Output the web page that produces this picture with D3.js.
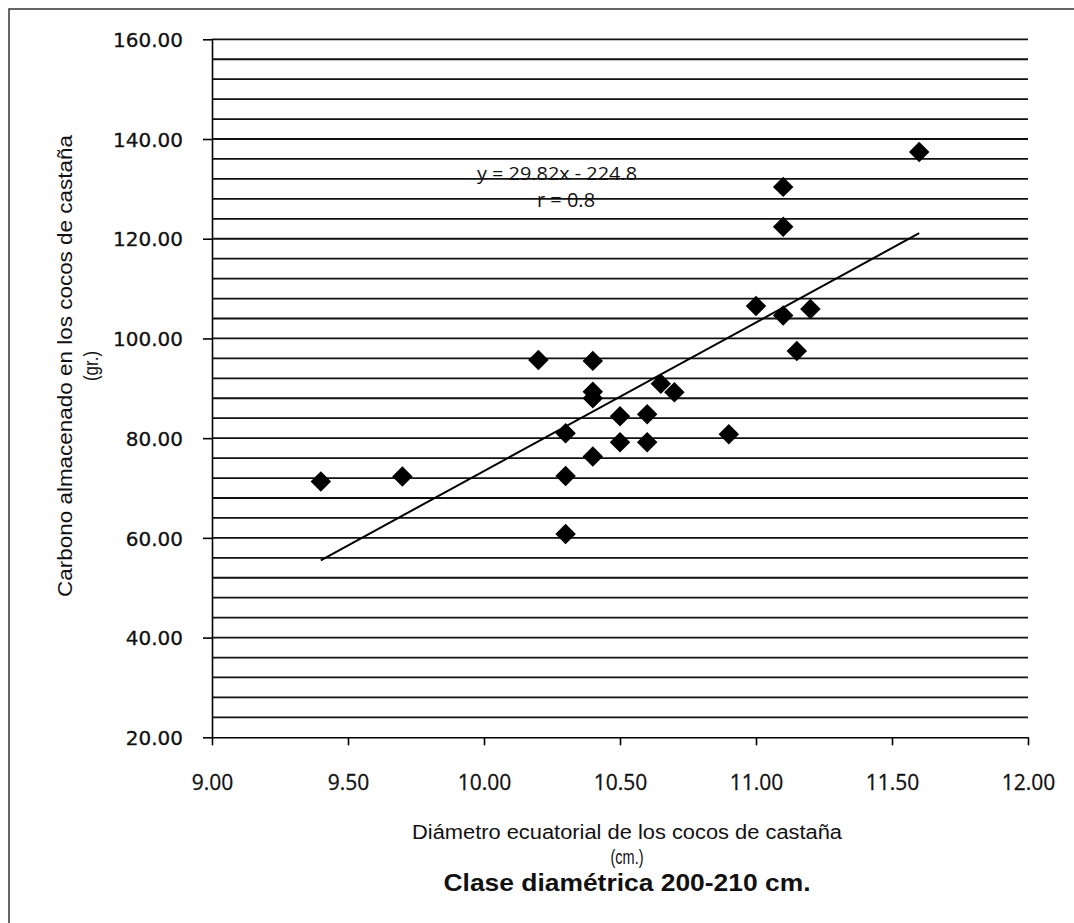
<!DOCTYPE html>
<html>
<head>
<meta charset="utf-8">
<script src="https://cdn.jsdelivr.net/npm/d3@7"></script>
<style>
  body { margin: 0; background: #fff; }
  svg { display: block; }
</style>
</head>
<body>
<div id="grafico"></div>
<script>
// datos
var diametro = [9.40, 9.70, 10.20, 10.30, 10.30, 10.30, 10.40, 10.40, 10.40, 10.40,
                10.50, 10.50, 10.60, 10.60, 10.65, 10.70, 10.90, 11.00, 11.10, 11.10,
                11.10, 11.15, 11.20, 11.60];
var carbono = [71.3, 72.3, 95.7, 81.0, 72.4, 60.8, 95.5, 89.3, 88.0, 76.3,
               84.4, 79.2, 84.8, 79.2, 90.9, 89.2, 80.8, 106.5, 130.4, 122.4,
               104.6, 97.5, 105.9, 137.4];
var pendiente = 29.82, intercepto = -224.8;
var ticksX = [9.0, 9.5, 10.0, 10.5, 11.0, 11.5, 12.0];
var ticksY = [20, 40, 60, 80, 100, 120, 140, 160];
var lineasY = d3.range(24, 161, 4);

var ancho = 1074, alto = 923;
var mIzq = 212, mDer = 1028, mSup = 39.3, mInf = 737.3;

var svg = d3.select('#grafico').append('svg')
    .attr('width', ancho)
    .attr('height', alto);

// marco
svg.append('path')
    .attr('d', 'M9,' + alto + 'V9H' + ancho)
    .attr('fill', 'none')
    .attr('stroke', '#333')
    .attr('stroke-width', 1.5);

var x = d3.scaleLinear().domain([9, 12]).range([mIzq, mDer]);
var y = d3.scaleLinear().domain([20, 160]).range([mInf, mSup]);

// lineas de division
svg.selectAll('.grid')
    .data(lineasY)
    .enter().append('line')
    .attr('class', 'grid')
    .attr('x1', mIzq)
    .attr('x2', mDer)
    .attr('y1', function(d) { return y(d); })
    .attr('y2', function(d) { return y(d); })
    .attr('stroke', '#111')
    .attr('stroke-width', 1.8);

// eje y
var ejeY = svg.append('g')
    .attr('transform', 'translate(' + mIzq + ',0)')
    .call(d3.axisLeft(y).tickValues(ticksY).tickSize(9).tickSizeOuter(0)
        .tickFormat(d3.format('.2f')));
ejeY.select('.domain').attr('stroke', '#000').attr('stroke-width', 1.6);
ejeY.selectAll('.tick line').attr('stroke', '#000').attr('stroke-width', 1.6);
ejeY.selectAll('.tick text')
    .attr('x', -29)
    .attr('dy', '0.36em')
    .style('font-family', 'DejaVu Sans')
    .style('font-size', '20px')
    .attr('fill', '#111')
    .attr('stroke', '#111')
    .attr('stroke-width', 0.3);

// eje x
var ejeX = svg.append('g')
    .attr('transform', 'translate(0,' + mInf + ')')
    .call(d3.axisBottom(x).tickValues(ticksX).tickSize(8).tickSizeOuter(0)
        .tickFormat(d3.format('.2f')));
ejeX.select('.domain').attr('stroke', '#000').attr('stroke-width', 1.6);
ejeX.selectAll('.tick line').attr('stroke', '#000').attr('stroke-width', 1.6);
ejeX.selectAll('.tick text')
    .attr('y', 45)
    .attr('dy', '0.36em')
    .style('font-family', 'Open Sans')
    .style('font-size', '21px')
    .attr('fill', '#111')
    .attr('stroke', '#111')
    .attr('stroke-width', 0.3);

// linea de tendencia
var xMin = d3.min(diametro), xMax = d3.max(diametro);
svg.append('line')
    .attr('x1', x(xMin))
    .attr('y1', y(pendiente * xMin + intercepto))
    .attr('x2', x(xMax))
    .attr('y2', y(pendiente * xMax + intercepto))
    .attr('stroke', '#000')
    .attr('stroke-width', 2);

// puntos
var puntos = diametro.map(function(d, i) { return { x: d, y: carbono[i] }; });
svg.selectAll('.punto')
    .data(puntos)
    .enter().append('path')
    .attr('class', 'punto')
    .attr('d', d3.symbol().type(d3.symbolSquare).size(210))
    .attr('transform', function(d) {
        return 'translate(' + x(d.x) + ',' + y(d.y) + ') rotate(45)';
    })
    .attr('fill', '#000');

// ecuacion
svg.append('text')
    .attr('x', 557)
    .attr('y', 180)
    .attr('text-anchor', 'middle')
    .attr('textLength', 160)
    .attr('lengthAdjust', 'spacingAndGlyphs')
    .style('font-family', 'Open Sans')
    .style('font-size', '19px')
    .attr('fill', '#111')
    .text('y = 29.82x - 224.8');
svg.append('text')
    .attr('x', 566)
    .attr('y', 207)
    .attr('text-anchor', 'middle')
    .style('font-family', 'Open Sans')
    .style('font-size', '20px')
    .attr('fill', '#111')
    .text('r = 0.8');

// titulo eje y
var tituloY = svg.append('g')
    .attr('transform', 'translate(0,366) rotate(-90)');
tituloY.append('text')
    .attr('x', 0)
    .attr('y', 72)
    .attr('text-anchor', 'middle')
    .attr('textLength', 462)
    .attr('lengthAdjust', 'spacingAndGlyphs')
    .style('font-family', 'Liberation Sans')
    .style('font-size', '20px')
    .attr('fill', '#111')
    .text('Carbono almacenado en los cocos de castaña');
tituloY.append('text')
    .attr('x', 0)
    .attr('y', 98)
    .attr('text-anchor', 'middle')
    .attr('textLength', 30)
    .attr('lengthAdjust', 'spacingAndGlyphs')
    .style('font-family', 'Liberation Sans')
    .style('font-size', '20px')
    .attr('fill', '#111')
    .text('(gr.)');

// titulo eje x
svg.append('text')
    .attr('x', 627)
    .attr('y', 839)
    .attr('text-anchor', 'middle')
    .attr('textLength', 430)
    .attr('lengthAdjust', 'spacingAndGlyphs')
    .style('font-family', 'Liberation Sans')
    .style('font-size', '20px')
    .attr('fill', '#111')
    .text('Diámetro ecuatorial de los cocos de castaña');
svg.append('text')
    .attr('x', 627)
    .attr('y', 864)
    .attr('text-anchor', 'middle')
    .attr('textLength', 33)
    .attr('lengthAdjust', 'spacingAndGlyphs')
    .style('font-family', 'Liberation Sans')
    .style('font-size', '20px')
    .attr('fill', '#111')
    .text('(cm.)');

svg.append('text')
    .attr('x', 627)
    .attr('y', 891)
    .attr('text-anchor', 'middle')
    .attr('textLength', 367)
    .attr('lengthAdjust', 'spacingAndGlyphs')
    .style('font-family', 'Liberation Sans')
    .style('font-size', '24px')
    .style('font-weight', 'bold')
    .attr('fill', '#111')
    .text('Clase diamétrica 200-210 cm.');
</script>
</body>
</html>
